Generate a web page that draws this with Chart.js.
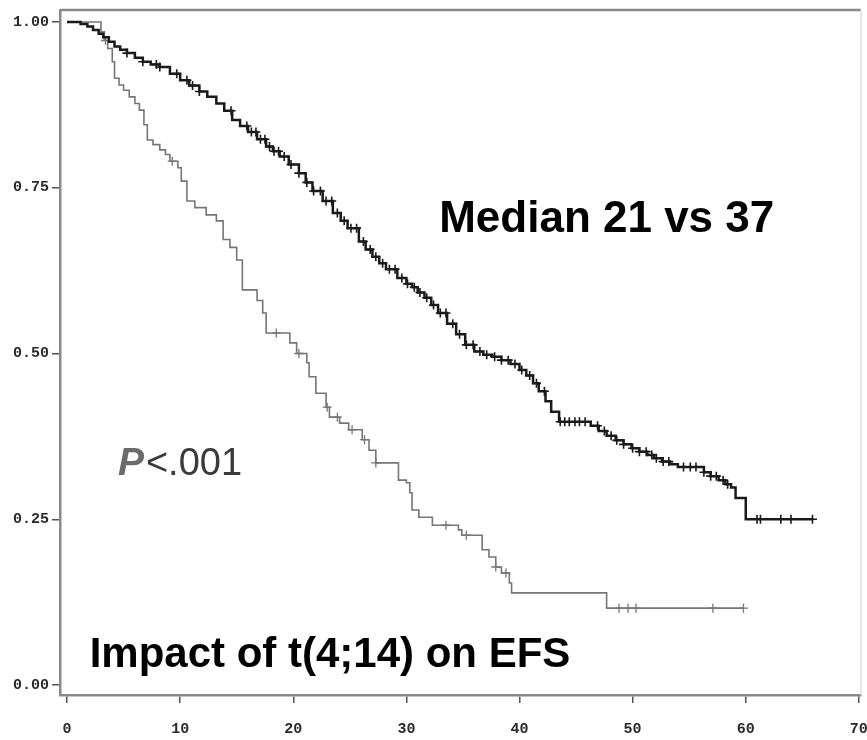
<!DOCTYPE html>
<html>
<head>
<meta charset="utf-8">
<script src="https://cdn.jsdelivr.net/npm/chart.js@4"></script>
<style>
  html, body { margin: 0; padding: 0; background: #fff; }
  #km { display: block; }
</style>
</head>
<body>
<canvas id="km" width="867" height="740"></canvas>
<script>
// t(4;14) negative - black curve (months, survival)
const negTimes = [0, 1.2, 1.8, 2.3, 2.8, 3.2, 3.7, 4.2, 4.7, 5.3, 6.0, 6.7, 7.4, 8.2, 9.1, 10.0, 10.8, 11.7, 12.4, 13.2,
    13.9, 14.6, 15.3, 16.0, 16.8, 17.6, 18.2, 18.8, 19.6, 20.5, 21.1, 21.7, 22.6, 23.5, 24.2, 24.8, 25.8, 26.4, 27.0, 27.6,
    28.2, 29.2, 30.0, 30.5, 31.0, 31.6, 32.2, 32.8, 33.6, 34.4, 35.2, 36.0, 36.8, 37.6, 38.4, 39.2, 40.0, 40.6, 41.2, 41.7,
    42.3, 42.8, 43.5, 46.3, 47.0, 47.7, 48.5, 49.2, 49.9, 50.6, 51.3, 51.9, 52.6, 53.3, 54.0, 56.3, 56.9, 57.6, 58.2, 58.7,
    59.1, 60.0, 65.9];
const negSurv = [1, 0.997, 0.993, 0.988, 0.982, 0.977, 0.970, 0.963, 0.958, 0.953, 0.946, 0.940, 0.936, 0.932, 0.922, 0.912, 0.904, 0.895, 0.887, 0.877,
    0.866, 0.852, 0.843, 0.834, 0.823, 0.812, 0.805, 0.797, 0.785, 0.772, 0.758, 0.745, 0.730, 0.712, 0.700, 0.689, 0.669, 0.657, 0.646, 0.636,
    0.627, 0.614, 0.605, 0.600, 0.592, 0.584, 0.573, 0.561, 0.545, 0.529, 0.513, 0.503, 0.498, 0.495, 0.490, 0.484, 0.475, 0.467, 0.455, 0.443,
    0.428, 0.412, 0.397, 0.391, 0.383, 0.376, 0.369, 0.363, 0.357, 0.352, 0.347, 0.342, 0.337, 0.333, 0.329, 0.321, 0.315, 0.309, 0.303, 0.298,
    0.282, 0.250, 0.250];
const negCensored = [5.3, 6.7, 7.9, 8.2, 9.7, 10.6, 11.1, 11.7, 14.5, 15.9, 16.3, 16.7, 17.1, 17.5, 17.9, 18.3, 18.7, 19.2, 19.8, 20.5,
    21.2, 21.8, 22.4, 22.9, 23.4, 23.9, 24.5, 25.1, 25.6, 26.2, 26.8, 27.3, 27.9, 28.5, 29.0, 29.6, 30.1, 30.7, 31.2, 31.8,
    32.4, 33.0, 33.5, 34.1, 34.7, 35.3, 35.9, 36.5, 37.1, 37.8, 38.4, 39.0, 39.6, 40.2, 40.9, 41.5, 42.2, 43.6, 44.0, 44.4,
    44.9, 45.3, 45.8, 46.9, 47.5, 48.1, 48.6, 49.2, 50.0, 50.6, 51.2, 51.7, 52.1, 52.7, 53.2, 54.5, 55.1, 55.6, 56.3, 56.9,
    57.4, 58.0, 58.4, 61.0, 61.3, 63.1, 64.0, 65.9];

// t(4;14) positive - gray curve
const posTimes = [0, 3.0, 3.3, 3.6, 4.0, 4.2, 4.6, 5.0, 5.5, 6.0, 6.4, 6.8, 7.1, 7.6, 8.2, 8.7, 9.1, 9.8, 10.1, 10.6,
    11.3, 12.3, 13.2, 13.8, 14.4, 15.0, 15.5, 16.8, 17.3, 17.6, 19.7, 20.3, 21.2, 21.4, 22.0, 22.9, 23.2, 24.1, 24.9, 26.1,
    26.7, 27.3, 29.3, 30.0, 30.3, 30.5, 31.1, 32.3, 34.6, 34.9, 36.7, 37.3, 37.9, 38.4, 39.1, 39.3, 47.7, 59.8];
const posSurv = [1, 0.985, 0.972, 0.960, 0.940, 0.915, 0.905, 0.897, 0.887, 0.877, 0.867, 0.845, 0.822, 0.815, 0.807, 0.800, 0.790, 0.780, 0.760, 0.730,
    0.720, 0.709, 0.700, 0.672, 0.660, 0.641, 0.596, 0.580, 0.561, 0.531, 0.516, 0.500, 0.486, 0.465, 0.440, 0.419, 0.404, 0.395, 0.385, 0.370,
    0.354, 0.335, 0.309, 0.305, 0.290, 0.264, 0.253, 0.241, 0.234, 0.226, 0.204, 0.193, 0.178, 0.169, 0.154, 0.139, 0.116, 0.116];
const posCensored = [3.4, 9.3, 18.5, 20.5, 23.0, 23.9, 25.2, 26.3, 27.3, 33.5, 35.3, 37.9, 38.8, 48.8, 49.6, 50.3, 57.1, 59.8];

const xTicks = [0, 10, 20, 30, 40, 50, 60, 70];
const yTicks = [0, 0.25, 0.5, 0.75, 1];

function survAt(times, surv, t) {
    let s = surv[0];
    for (let i = 0; i < times.length; i++) {
        if (times[i] <= t) s = surv[i];
    }
    return s;
}

function toPoints(xs, ys) {
    return xs.map((x, i) => ({ x: x, y: ys[i] }));
}

function censorPoints(times, xs, ys) {
    return times.map(t => ({ x: t, y: survAt(xs, ys, t) }));
}

const annotations = {
    id: 'annotations',
    afterDatasetsDraw(chart) {
        const ctx = chart.ctx;
        const area = chart.chartArea;
        const x = chart.scales.x;
        const y = chart.scales.y;
        ctx.save();

        // top and right frame
        ctx.strokeStyle = '#8a8a8a';
        ctx.lineWidth = 2.5;
        ctx.beginPath();
        ctx.moveTo(area.left, area.top);
        ctx.lineTo(area.right, area.top);
        ctx.stroke();
        ctx.strokeStyle = '#e2e2e2';
        ctx.lineWidth = 1.5;
        ctx.beginPath();
        ctx.moveTo(area.right, area.top);
        ctx.lineTo(area.right, area.bottom);
        ctx.stroke();

        ctx.textBaseline = 'alphabetic';
        ctx.textAlign = 'left';

        ctx.fillStyle = '#000';
        ctx.font = 'bold 44px "Liberation Sans", Arial, sans-serif';
        ctx.fillText('Median 21 vs 37', x.getPixelForValue(32.9), y.getPixelForValue(0.683));

        ctx.font = 'bold 42px "Liberation Sans", Arial, sans-serif';
        ctx.fillText('Impact of t(4;14) on EFS', x.getPixelForValue(2.0), y.getPixelForValue(0.027));

        const px = x.getPixelForValue(4.5);
        const py = y.getPixelForValue(0.317);
        ctx.font = 'italic bold 39px "Liberation Sans", Arial, sans-serif';
        ctx.fillStyle = '#6b6b6b';
        ctx.fillText('P', px, py);
        const pw = ctx.measureText('P').width;
        ctx.font = '38px "Liberation Sans", Arial, sans-serif';
        ctx.fillStyle = '#3a3a3a';
        ctx.fillText('<.001', px + pw + 2, py);

        ctx.restore();
    }
};

const ctx = document.getElementById('km');
ctx.chart = new Chart(ctx, {
    type: 'scatter',
    data: {
        datasets: [
            {
                label: 't(4;14) negative',
                data: toPoints(negTimes, negSurv),
                showLine: true,
                stepped: 'before',
                borderColor: '#1a1a1a',
                borderWidth: 2.5,
                pointRadius: 0
            },
            {
                label: 't(4;14) positive',
                data: toPoints(posTimes, posSurv),
                showLine: true,
                stepped: 'before',
                borderColor: '#767676',
                borderWidth: 1.6,
                pointRadius: 0
            },
            {
                label: 'censored negative',
                data: censorPoints(negCensored, negTimes, negSurv),
                showLine: false,
                pointStyle: 'cross',
                pointRadius: 4.5,
                borderColor: '#1a1a1a',
                borderWidth: 1.6
            },
            {
                label: 'censored positive',
                data: censorPoints(posCensored, posTimes, posSurv),
                showLine: false,
                pointStyle: 'cross',
                pointRadius: 4.5,
                borderColor: '#767676',
                borderWidth: 1.3
            }
        ]
    },
    plugins: [annotations],
    options: {
        responsive: false,
        animation: false,
        devicePixelRatio: 1,
        layout: { padding: { top: 10, right: 4, left: 0, bottom: 0 } },
        plugins: {
            legend: { display: false },
            tooltip: { enabled: false }
        },
        scales: {
            x: {
                type: 'linear',
                min: -0.62,
                max: 70.18,
                afterFit(scale) {
                    scale.height = 45;
                    scale.paddingLeft = 0;
                    scale.paddingRight = 0;
                },
                afterBuildTicks(scale) { scale.ticks = xTicks.map(v => ({ value: v })); },
                border: { display: true, color: '#8a8a8a', width: 2.5 },
                grid: { drawOnChartArea: false, drawTicks: true, tickLength: 8, color: '#555', lineWidth: 1.5 },
                ticks: {
                    padding: 17,
                    color: '#2a2a2a',
                    font: { family: '"Liberation Mono", "DejaVu Sans Mono", monospace', weight: 'bold', size: 15 },
                    callback: v => String(v)
                }
            },
            y: {
                type: 'linear',
                min: -0.015,
                max: 1.018,
                afterFit(scale) {
                    scale.width = 60;
                    scale.paddingTop = 0;
                    scale.paddingBottom = 0;
                },
                afterBuildTicks(scale) { scale.ticks = yTicks.map(v => ({ value: v })); },
                border: { display: true, color: '#8a8a8a', width: 2.5 },
                grid: { drawOnChartArea: false, drawTicks: true, tickLength: 8, color: '#555', lineWidth: 1.5 },
                ticks: {
                    padding: 3,
                    color: '#2a2a2a',
                    font: { family: '"Liberation Mono", "DejaVu Sans Mono", monospace', weight: 'bold', size: 15 },
                    callback: v => Number(v).toFixed(2)
                }
            }
        }
    }
});
</script>
</body>
</html>
